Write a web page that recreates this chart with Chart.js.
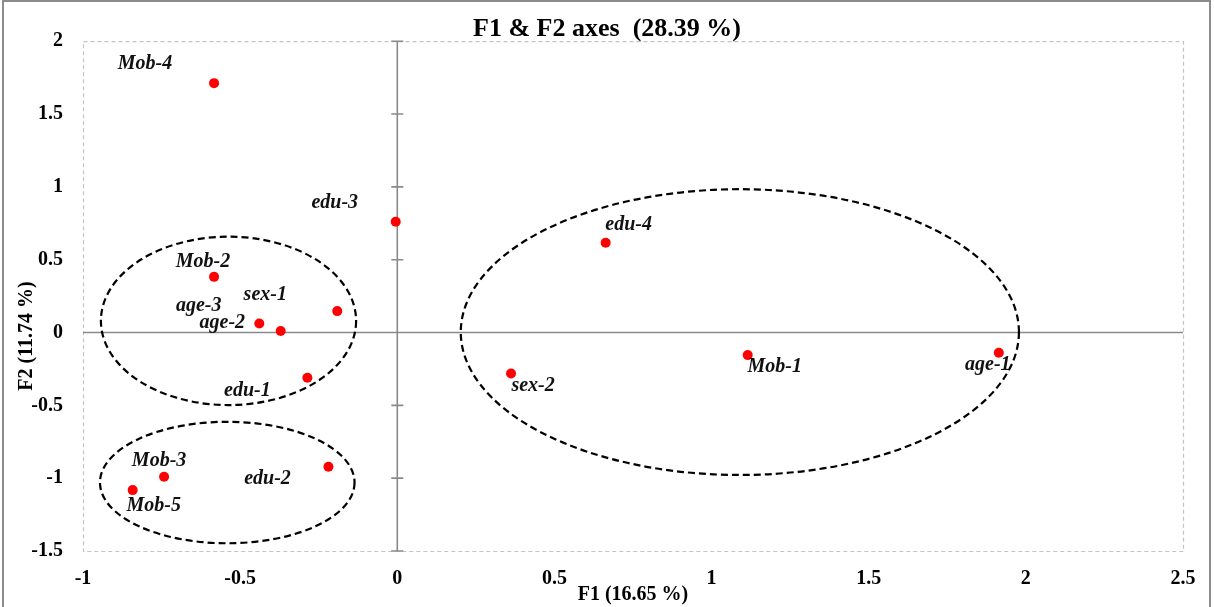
<!DOCTYPE html>
<html>
<head>
<meta charset="utf-8">
<script src="https://cdn.jsdelivr.net/npm/chart.js@4/dist/chart.umd.min.js"></script>
<style>
  html, body { margin: 0; padding: 0; background: #fff; }
  #wrap { width: 1214px; height: 607px; }
</style>
</head>
<body>
<div id="wrap"><canvas id="c" width="1214" height="607"></canvas></div>
<script>
// observations on the F1/F2 map
const labels = ['Mob-4', 'edu-3', 'Mob-2', 'sex-1', 'age-2', 'age-3', 'edu-1',
                'Mob-3', 'Mob-5', 'edu-2', 'edu-4', 'sex-2', 'Mob-1', 'age-1'];
const f1 = [-0.583, -0.005, -0.583, -0.191, -0.439, -0.371, -0.286,
            -0.742, -0.842, -0.219, 0.663, 0.362, 1.115, 1.914];
const f2 = [1.712, 0.760, 0.382, 0.147, 0.062, 0.010, -0.311,
            -0.990, -1.082, -0.922, 0.616, -0.281, -0.155, -0.139];

// group ellipses (centre / radii in axis units)
const ellCx = [-0.537, -0.541, 1.090];
const ellCy = [0.080, -1.030, 0.003];
const ellRx = [0.406, 0.405, 0.888];
const ellRy = [0.578, 0.417, 0.981];

const serif = '"Liberation Serif", "Times New Roman", serif';
const yTitle = 'F2 (11.74 %)';

// where each name sits relative to its dot (px)
const labelOffset = {
    'Mob-4': [-69, -19], 'edu-3': [-61, -19], 'Mob-2': [-11, -15], 'sex-1': [-72, -16],
    'age-2': [-37, -1], 'age-3': [-82, -25], 'edu-1': [-60, 13], 'Mob-3': [-5, -16],
    'Mob-5': [21, 16], 'edu-2': [-61, 12], 'edu-4': [23, -18], 'sex-2': [22, 12],
    'Mob-1': [27, 12], 'age-1': [-11, 12]
};

const decor = {
    id: 'decor',
    beforeDraw(chart) {
        const {ctx} = chart;
        ctx.save();
        ctx.fillStyle = '#fff';
        ctx.fillRect(0, 0, chart.width, chart.height);
        // outer frame
        ctx.strokeStyle = '#8c8c8c';
        ctx.lineWidth = 2;
        ctx.strokeRect(3, 1, 1207, 612);
        // F2 title sits a bit lower than the plot middle in the original
        ctx.translate(27, 336);
        ctx.rotate(-Math.PI / 2);
        ctx.font = 'bold 20px ' + serif;
        ctx.fillStyle = '#000';
        ctx.textAlign = 'center';
        ctx.textBaseline = 'middle';
        ctx.fillText(yTitle, 0, 0);
        ctx.restore();
    },
    beforeDatasetsDraw(chart) {
        const {ctx, chartArea: a, scales: {x, y}} = chart;
        ctx.save();
        // dashed plot border
        ctx.strokeStyle = '#c4c4c4';
        ctx.lineWidth = 1.2;
        ctx.setLineDash([4, 3]);
        ctx.strokeRect(a.left + 0.5, a.top + 0.5, a.right - a.left, a.bottom - a.top);
        ctx.setLineDash([]);
        // zero lines
        const x0 = x.getPixelForValue(0), y0 = y.getPixelForValue(0);
        ctx.strokeStyle = '#8a8a8a';
        ctx.lineWidth = 1.6;
        ctx.beginPath();
        ctx.moveTo(a.left, y0); ctx.lineTo(a.right, y0);
        ctx.moveTo(x0, a.top); ctx.lineTo(x0, a.bottom);
        y.ticks.forEach(t => {
            const py = y.getPixelForValue(t.value);
            ctx.moveTo(x0 - 6, py); ctx.lineTo(x0 + 6, py);
        });
        ctx.stroke();
        // ellipses
        ctx.strokeStyle = '#000';
        ctx.lineWidth = 2.2;
        ctx.setLineDash([7, 4]);
        for (let i = 0; i < ellCx.length; i++) {
            const cx = x.getPixelForValue(ellCx[i]), cy = y.getPixelForValue(ellCy[i]);
            const rx = Math.abs(x.getPixelForValue(ellCx[i] + ellRx[i]) - cx);
            const ry = Math.abs(y.getPixelForValue(ellCy[i] + ellRy[i]) - cy);
            ctx.beginPath();
            ctx.ellipse(cx, cy, rx, ry, 0, 0, Math.PI * 2);
            ctx.stroke();
        }
        ctx.restore();
    },
    afterDatasetsDraw(chart) {
        const {ctx} = chart;
        const meta = chart.getDatasetMeta(0);
        ctx.save();
        ctx.font = 'italic bold 20px ' + serif;
        ctx.fillStyle = '#111';
        ctx.textAlign = 'center';
        ctx.textBaseline = 'middle';
        meta.data.forEach((pt, i) => {
            const off = labelOffset[labels[i]] || [0, -14];
            ctx.fillText(labels[i], pt.x + off[0], pt.y + off[1]);
        });
        ctx.restore();
    }
};

const tickFont = {family: serif, size: 20, weight: 'bold'};
const fmt = v => String(Math.round(v * 10) / 10);

new Chart(document.getElementById('c'), {
    type: 'scatter',
    data: {
        labels: labels,
        datasets: [{
            data: f1.map((v, i) => ({x: v, y: f2[i]})),
            backgroundColor: '#ff0000',
            borderWidth: 0,
            pointRadius: 5,
            pointHoverRadius: 5
        }]
    },
    options: {
        responsive: false,
        animation: false,
        layout: {padding: 0},
        plugins: {
            legend: {display: false},
            tooltip: {enabled: false},
            title: {
                display: true,
                text: 'F1 & F2 axes  (28.39 %)',
                color: '#000',
                font: {family: serif, size: 26, weight: 'bold'},
                padding: {top: 14, bottom: -4}
            }
        },
        scales: {
            x: {
                type: 'linear',
                min: -1, max: 2.5,
                grid: {display: false},
                border: {display: false},
                afterFit(s) { s.height = 56; },
                ticks: {stepSize: 0.5, padding: 8, color: '#000', font: tickFont, callback: fmt},
                title: {
                    display: true,
                    text: 'F1 (16.65 %)',
                    color: '#000',
                    font: tickFont,
                    padding: {top: 0, bottom: 0}
                }
            },
            y: {
                type: 'linear',
                min: -1.5, max: 2,
                grid: {display: false},
                border: {display: false},
                afterFit(s) { s.width = 83; },
                ticks: {stepSize: 0.5, padding: 12, color: '#000', font: tickFont, callback: fmt}
            },
            // empty right margin so the chart title centres on the full width
            yRight: {
                position: 'right',
                grid: {display: false},
                border: {display: false},
                ticks: {display: false},
                afterFit(s) { s.width = 31; }
            }
        }
    },
    plugins: [decor]
});
</script>
</body>
</html>
